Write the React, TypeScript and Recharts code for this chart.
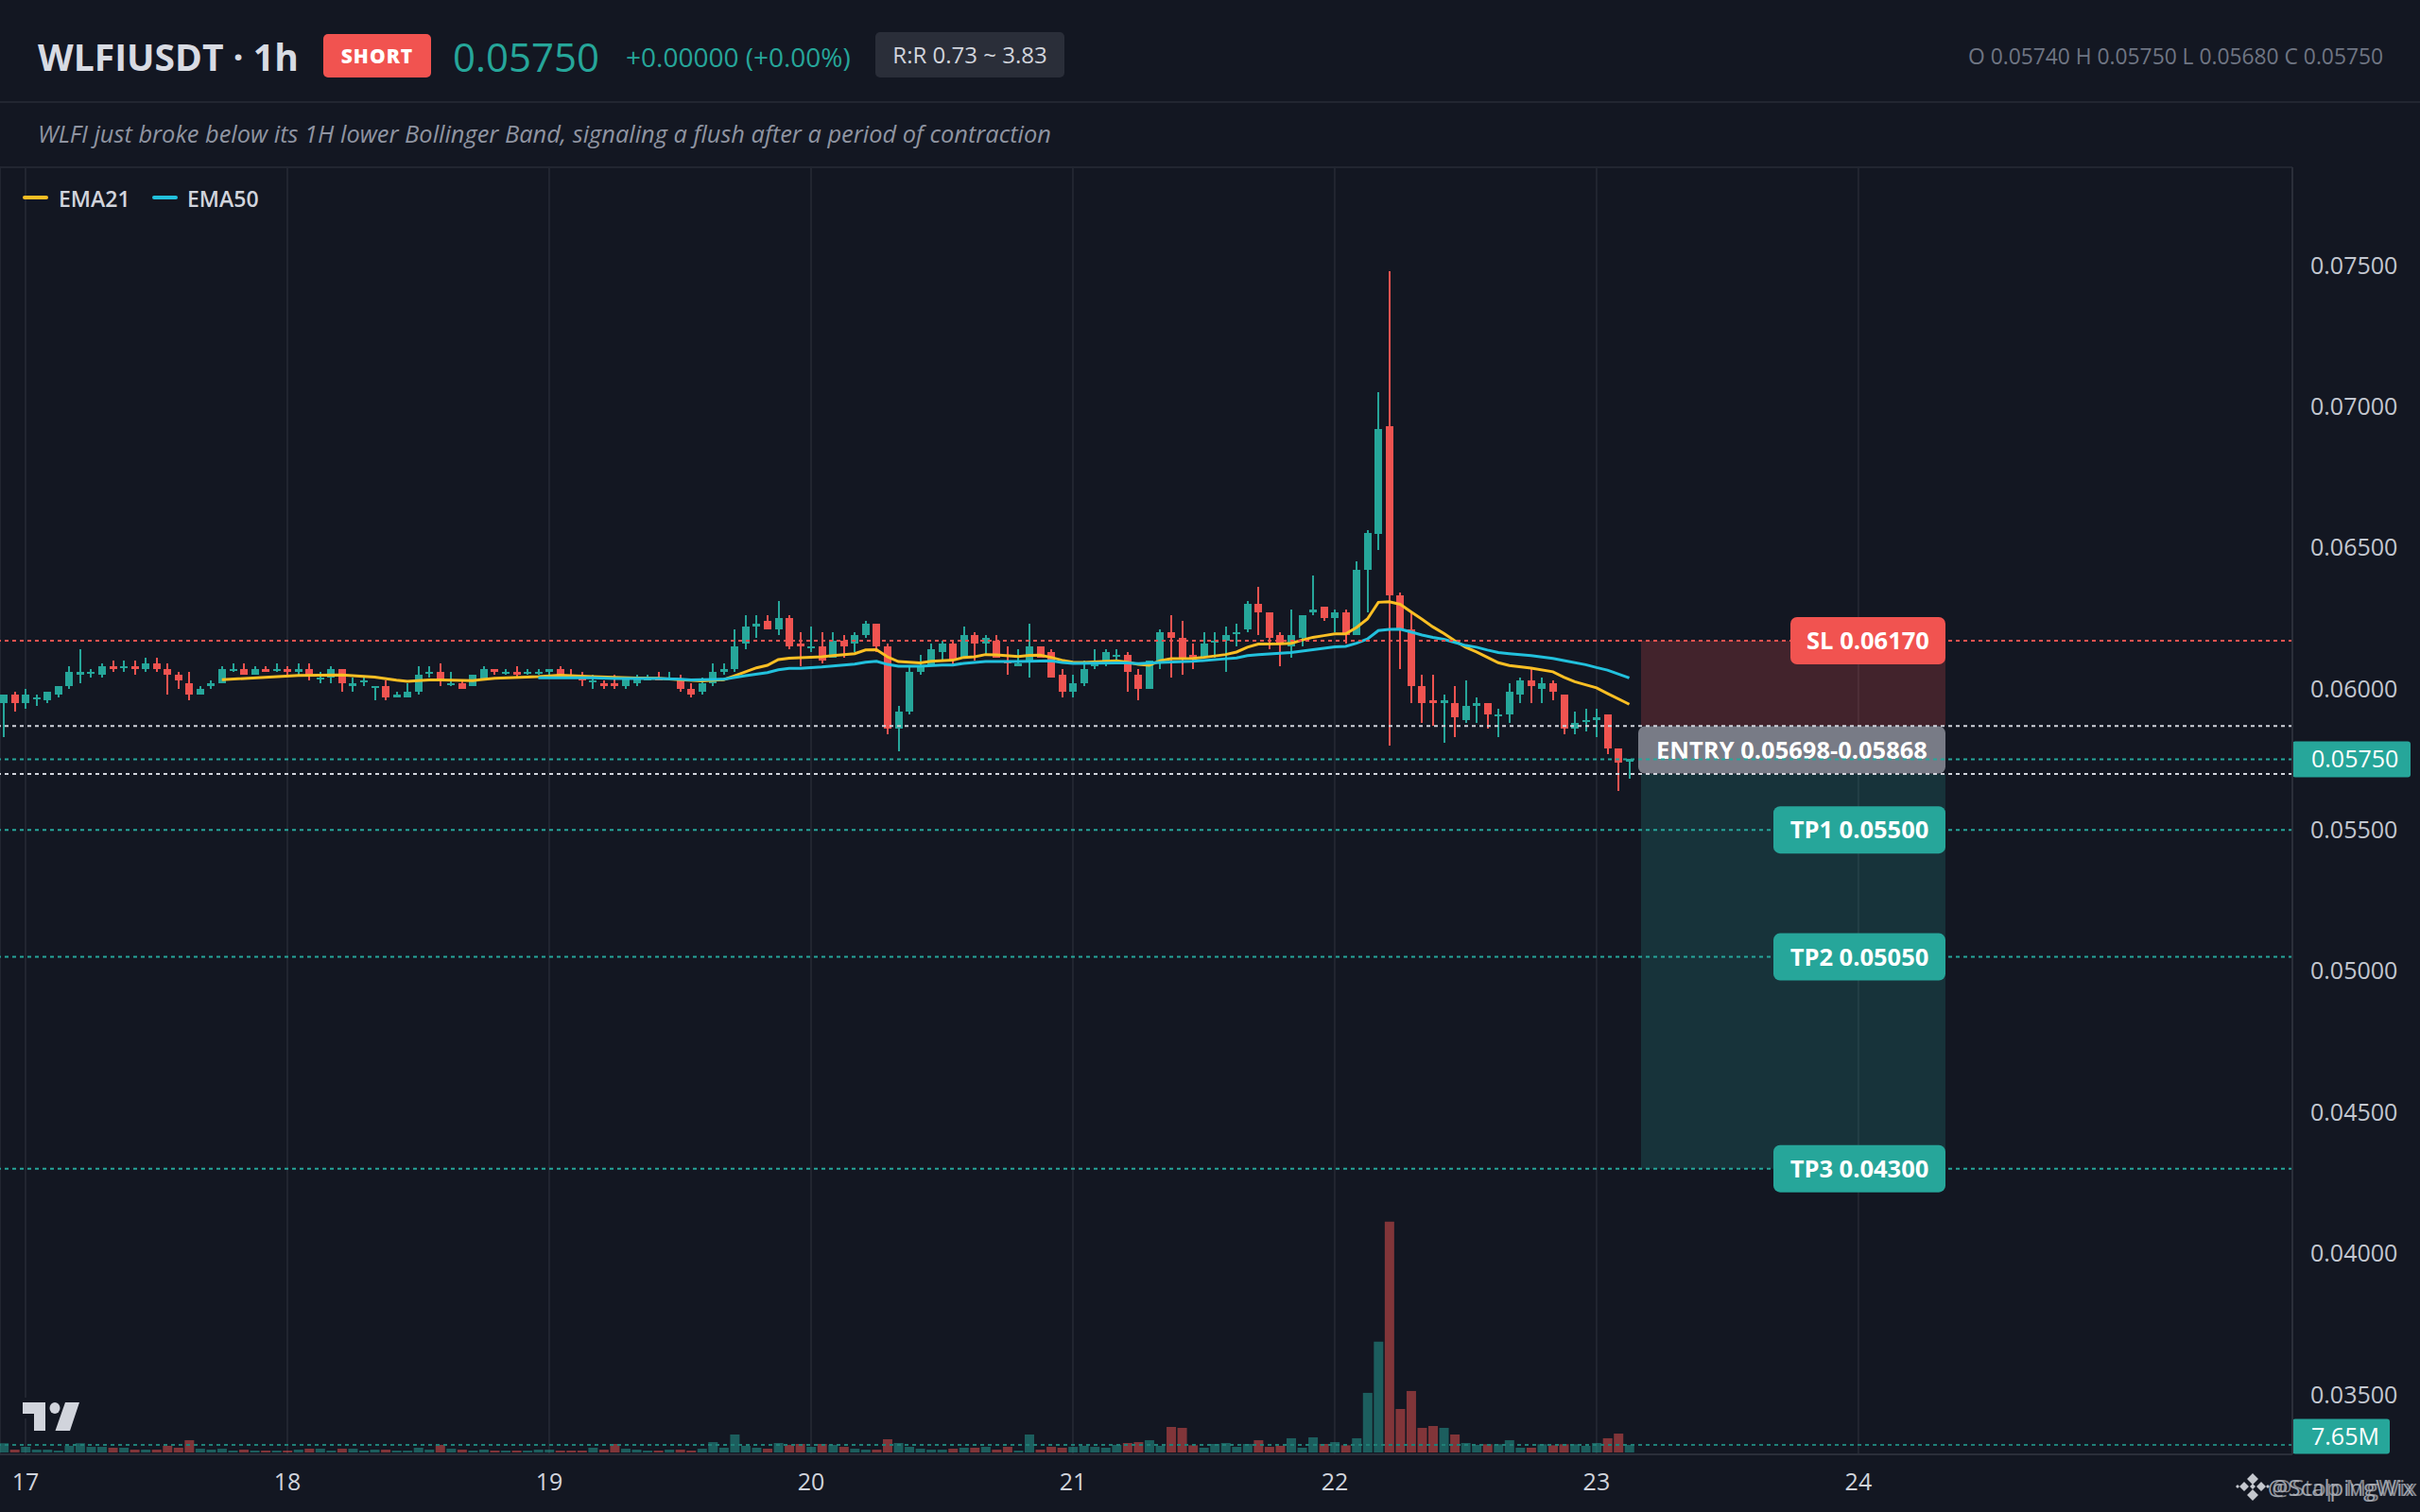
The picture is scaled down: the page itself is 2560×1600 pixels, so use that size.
import { Bar, CartesianGrid, Cell, ComposedChart, Line, ReferenceArea, ReferenceLine, XAxis, YAxis } from 'recharts'

const BG = '#131722'
const GRID = '#222631'
const BORDER = '#2a2e39'
const GREEN = '#26a69a'
const RED = '#ef5350'
const EMA21_COLOR = '#fbbf24'
const EMA50_COLOR = '#22c1dd'
const FONT = '"Open Sans", "Noto Sans", sans-serif'

// hours counted from 00:00 on the 17th
const firstHour = -2
const hourDomain = [-2.339, 207.78]

const opens = [
  0.0595, 0.0598, 0.0595, 0.0597, 0.0596, 0.0598, 0.0601, 0.0605, 0.0606, 0.0605,
  0.0608, 0.0608, 0.0608, 0.0607, 0.0609, 0.0607, 0.0605, 0.0602, 0.0598, 0.0601,
  0.0602, 0.0607, 0.0607, 0.0605, 0.0607, 0.0607, 0.0607, 0.0606, 0.0607, 0.0604,
  0.0604, 0.0607, 0.0601, 0.0603, 0.0601, 0.0601, 0.0597, 0.0597, 0.0599, 0.0606,
  0.0606, 0.0602, 0.0602, 0.0601, 0.0603, 0.0607, 0.0606, 0.0606, 0.0606, 0.0606,
  0.0606, 0.0607, 0.0605, 0.0604, 0.0603, 0.0602, 0.0602, 0.0601, 0.0602, 0.0603,
  0.0604, 0.0604, 0.0603, 0.06, 0.0599, 0.0602, 0.0606, 0.0607, 0.0616, 0.0622,
  0.0624, 0.0621, 0.0625, 0.0616, 0.0615, 0.0615, 0.0611, 0.0617, 0.0616, 0.0619,
  0.0623, 0.0615, 0.0586, 0.0592, 0.0606, 0.0608, 0.0613, 0.0616, 0.0611, 0.0619,
  0.0616, 0.0617, 0.06095, 0.0608, 0.061, 0.0615, 0.0613, 0.0605, 0.0599, 0.0602,
  0.0608, 0.0609, 0.0612, 0.0612, 0.0605, 0.06, 0.061, 0.062, 0.0618, 0.0612,
  0.0611, 0.0617, 0.0617, 0.062, 0.0621, 0.063, 0.0627, 0.0619, 0.0615, 0.0618,
  0.0627, 0.0629, 0.0625, 0.0627, 0.0619, 0.0642, 0.0655, 0.0693, 0.0633, 0.0621,
  0.0601, 0.0596, 0.0595, 0.0595, 0.0589, 0.0594, 0.0595, 0.0591, 0.0591, 0.0598,
  0.0603, 0.06, 0.0602, 0.0598, 0.0586, 0.0589, 0.0589, 0.0591, 0.0579, 0.0574,
]
const closes = [
  0.0598, 0.0595, 0.0598, 0.0597, 0.0599, 0.0601, 0.0606, 0.0606, 0.0606, 0.0608,
  0.0607, 0.0608, 0.0607, 0.0609, 0.0607, 0.0605, 0.0603, 0.0598, 0.06, 0.0602,
  0.0607, 0.0607, 0.0605, 0.0607, 0.0606, 0.0607, 0.0606, 0.0607, 0.0605, 0.0604,
  0.0607, 0.0602, 0.0602, 0.0603, 0.0601, 0.0597, 0.0598, 0.0599, 0.0605, 0.0606,
  0.0603, 0.0602, 0.06, 0.0605, 0.0607, 0.0606, 0.0606, 0.0605, 0.0606, 0.0606,
  0.0607, 0.0605, 0.0604, 0.0603, 0.0603, 0.0601, 0.0601, 0.0604, 0.0604, 0.0604,
  0.0603, 0.0604, 0.06, 0.0598, 0.0602, 0.0606, 0.0607, 0.0615, 0.0622, 0.0623,
  0.0621, 0.0625, 0.0615, 0.0615, 0.0615, 0.061, 0.0617, 0.0615, 0.0619, 0.0623,
  0.0615, 0.0586, 0.0592, 0.0606, 0.0608, 0.0614, 0.0616, 0.061, 0.0619, 0.0616,
  0.0618, 0.0611, 0.0609, 0.0609, 0.0615, 0.0611, 0.0604, 0.0599, 0.0602, 0.0607,
  0.0609, 0.0613, 0.0612, 0.0606, 0.06, 0.061, 0.062, 0.0618, 0.0611, 0.0611,
  0.0616, 0.0617, 0.0619, 0.062, 0.063, 0.0627, 0.0618, 0.0616, 0.0619, 0.0626,
  0.0628, 0.0625, 0.0627, 0.0619, 0.0642, 0.0655, 0.0692, 0.0633, 0.0621, 0.0601,
  0.0595, 0.0595, 0.0596, 0.059, 0.0594, 0.0595, 0.0591, 0.0591, 0.0599, 0.0603,
  0.0601, 0.0602, 0.0599, 0.0586, 0.0588, 0.0589, 0.059, 0.0579, 0.0574, 0.0575,
]
const highs = [
  0.0598, 0.0599, 0.06, 0.0598, 0.0599, 0.0601, 0.0608, 0.0614, 0.0607, 0.0609,
  0.061, 0.061, 0.061, 0.0611, 0.0611, 0.0609, 0.0606, 0.0606, 0.0601, 0.0603,
  0.0608, 0.0609, 0.0609, 0.0608, 0.0608, 0.0609, 0.0608, 0.0609, 0.0609, 0.0606,
  0.0608, 0.0607, 0.0604, 0.0604, 0.0601, 0.0603, 0.0599, 0.0602, 0.0608, 0.0608,
  0.0609, 0.0606, 0.0603, 0.0605, 0.0608, 0.0607, 0.0607, 0.0608, 0.0607, 0.0607,
  0.0607, 0.0608, 0.0607, 0.0606, 0.0605, 0.0603, 0.0605, 0.0604, 0.0605, 0.0605,
  0.0606, 0.0606, 0.0605, 0.0602, 0.0604, 0.0609, 0.0609, 0.0621, 0.0626, 0.0626,
  0.0626, 0.0631, 0.0626, 0.062, 0.0622, 0.062, 0.062, 0.0619, 0.062, 0.0624,
  0.0623, 0.0616, 0.0594, 0.0608, 0.0612, 0.0616, 0.0617, 0.0617, 0.0622, 0.062,
  0.0619, 0.0619, 0.0615, 0.0614, 0.0623, 0.0615, 0.0614, 0.0607, 0.0605, 0.061,
  0.0614, 0.0614, 0.0614, 0.0613, 0.0607, 0.061, 0.0621, 0.0626, 0.0624, 0.0616,
  0.062, 0.062, 0.0622, 0.0623, 0.0631, 0.0636, 0.0627, 0.062, 0.0628, 0.0626,
  0.064, 0.0629, 0.0628, 0.0628, 0.0645, 0.0656, 0.0705, 0.0748, 0.0634, 0.0627,
  0.0605, 0.0605, 0.0598, 0.0601, 0.0603, 0.0597, 0.0595, 0.0593, 0.0602, 0.0604,
  0.0607, 0.0604, 0.0603, 0.0598, 0.0592, 0.0593, 0.0593, 0.0591, 0.0579, 0.0575,
]
const lows = [
  0.0583, 0.0592, 0.0593, 0.0594, 0.0595, 0.0597, 0.06, 0.0602, 0.0604, 0.0604,
  0.0606, 0.0606, 0.0605, 0.0606, 0.0606, 0.0598, 0.06, 0.0596, 0.0598, 0.06,
  0.0602, 0.0606, 0.0605, 0.0605, 0.0606, 0.0606, 0.0605, 0.0605, 0.0603, 0.0602,
  0.0602, 0.0599, 0.0599, 0.0601, 0.0596, 0.0596, 0.0597, 0.0597, 0.0598, 0.0604,
  0.0601, 0.0601, 0.06, 0.0601, 0.0603, 0.0605, 0.0605, 0.0604, 0.0605, 0.0605,
  0.0605, 0.0605, 0.0604, 0.0601, 0.06, 0.06, 0.06, 0.06, 0.0601, 0.0603,
  0.0603, 0.0603, 0.0599, 0.0597, 0.0598, 0.0601, 0.0605, 0.0606, 0.0614, 0.0618,
  0.0621, 0.0619, 0.0614, 0.0608, 0.0613, 0.0609, 0.0611, 0.0611, 0.0613, 0.0618,
  0.0613, 0.0584, 0.0578, 0.0591, 0.0605, 0.0608, 0.061, 0.0608, 0.0611, 0.061,
  0.0612, 0.0611, 0.0605, 0.0608, 0.0604, 0.0611, 0.0604, 0.0597, 0.0597, 0.0601,
  0.0607, 0.0608, 0.061, 0.0599, 0.0596, 0.06, 0.0607, 0.0604, 0.0605, 0.0607,
  0.0611, 0.0611, 0.0606, 0.0615, 0.062, 0.0619, 0.0614, 0.0608, 0.0611, 0.0615,
  0.0626, 0.0624, 0.062, 0.0616, 0.0619, 0.0627, 0.0649, 0.058, 0.0607, 0.0595,
  0.0588, 0.0587, 0.0581, 0.0583, 0.0588, 0.0588, 0.0586, 0.0583, 0.0588, 0.0595,
  0.0595, 0.0595, 0.0596, 0.0584, 0.0584, 0.0585, 0.0583, 0.0577, 0.0564, 0.0568,
]
// millions
const volumes = [
  9.3, 2.9, 5.7, 2.9, 2.9, 1.9, 6.7, 9.3, 5.7, 5.7,
  4.8, 4.8, 2.9, 2.9, 2.9, 6.7, 4.8, 12.4, 3.8, 2.9,
  3.8, 1.9, 2.9, 1.9, 1.9, 1.9, 1.9, 2.9, 3.8, 3.8,
  1.9, 3.8, 3.8, 1.9, 2.9, 2.9, 1.9, 1.9, 4.8, 2.9,
  7.7, 3.8, 2.9, 1.9, 2.9, 1.9, 1.9, 1.9, 1.9, 2.9,
  2.9, 1.9, 1.9, 1.9, 4.8, 2.9, 8.6, 3.8, 2.9, 1.9,
  1.9, 2.9, 2.9, 1.9, 3.8, 10.5, 4.8, 18.2, 6.7, 4.8,
  3.8, 9.6, 7.7, 8.6, 5.7, 8.6, 7.7, 5.7, 3.8, 2.9,
  2.9, 13.4, 9.6, 5.7, 3.8, 2.9, 2.9, 3.8, 4.8, 4.8,
  5.7, 2.9, 5.7, 1.9, 18.2, 2.9, 5.7, 4.8, 5.7, 6.7,
  5.7, 4.8, 7.7, 9.6, 10.5, 12.4, 6.7, 25.8, 24.9, 7.3,
  4.8, 8.6, 9.6, 5.7, 8.6, 12.4, 5.7, 6.7, 14.4, 4.8,
  15.3, 8.6, 10.5, 7.3, 14.4, 60.3, 112, 233.5, 44, 62.2,
  24.9, 26.8, 24.9, 18.2, 9.6, 7.7, 8.3, 8.3, 12.4, 4.8,
  4.8, 8.3, 7.3, 8.3, 8.3, 6.7, 9.6, 14.4, 19.1, 7.65,
]

const ema21Hours = [
  18, 25, 29, 32, 34, 35, 37, 38, 41, 43, 47, 49, 52, 56, 58, 60, 62, 64, 65, 67, 68, 69, 70, 71, 73, 74, 76, 77, 78, 79,
  80, 82, 83, 85, 86, 87, 88, 89, 91, 92, 93, 94, 95, 96, 97, 100, 101, 102, 103, 104, 105, 107, 108, 110, 111, 112, 113,
  115, 116, 117, 118, 119, 120, 121, 122, 123, 124, 125, 126, 127, 128, 129, 130, 131, 132, 133, 134, 135, 136, 138, 140,
  141, 142, 143, 144, 145, 147,
]
const ema21Values = [
  0.06032, 0.06047, 0.06049, 0.06041, 0.0603, 0.06026, 0.06031, 0.06031, 0.06029, 0.06037, 0.06043, 0.06048, 0.06043,
  0.06038, 0.06037, 0.06032, 0.06028, 0.06032, 0.06046, 0.06074, 0.06083, 0.06103, 0.06108, 0.0611, 0.06113, 0.06117,
  0.06124, 0.06137, 0.06138, 0.06113, 0.06096, 0.06091, 0.06097, 0.06101, 0.06111, 0.06113, 0.06121, 0.0612, 0.06114,
  0.06118, 0.06119, 0.06111, 0.06101, 0.06094, 0.06093, 0.06099, 0.06094, 0.06086, 0.06083, 0.06099, 0.06106, 0.06107,
  0.06111, 0.06121, 0.0613, 0.06147, 0.06158, 0.06159, 0.06161, 0.06172, 0.06182, 0.06188, 0.06194, 0.06194, 0.06217,
  0.06247, 0.06306, 0.06308, 0.06299, 0.06272, 0.06246, 0.06219, 0.06196, 0.0617, 0.06147, 0.0613, 0.06111, 0.06092,
  0.06082, 0.06073, 0.0606, 0.06041, 0.06025, 0.06014, 0.06003, 0.05983, 0.05945,
]
const ema50Hours = [
  47, 52, 54, 58, 60, 61, 63, 64, 66, 68, 69, 70, 71, 73, 75, 76, 77, 78, 79, 80, 82, 84, 85, 86, 88, 91, 94, 95, 96, 100,
  101, 102, 104, 107, 110, 111, 112, 113, 116, 118, 120, 121, 122, 123, 124, 125, 126, 127, 128, 129, 130, 131, 132, 133,
  134, 135, 136, 138, 140, 141, 143, 144, 145, 147,
]
const ema50Values = [
  0.06039, 0.06039, 0.06036, 0.06036, 0.06034, 0.06031, 0.06033, 0.06034, 0.06046, 0.06057, 0.06067, 0.06072, 0.06072,
  0.06077, 0.06084, 0.06087, 0.06094, 0.06097, 0.06086, 0.0608, 0.0608, 0.06084, 0.06084, 0.0609, 0.06096, 0.06096,
  0.06099, 0.06093, 0.0609, 0.06091, 0.06091, 0.06089, 0.06093, 0.06097, 0.06106, 0.06109, 0.06117, 0.06121, 0.06128,
  0.06138, 0.06148, 0.0615, 0.06161, 0.06176, 0.06206, 0.0621, 0.06211, 0.06201, 0.0619, 0.06182, 0.06175, 0.06164,
  0.06153, 0.06147, 0.06137, 0.06128, 0.06124, 0.06117, 0.06107, 0.061, 0.06085, 0.06075, 0.06066, 0.06038,
]

const dayHours = [0, 24, 48, 72, 96, 120, 144, 168]
const dayLabels = ['17', '18', '19', '20', '21', '22', '23', '24']
const priceTicks = [0.035, 0.04, 0.045, 0.05, 0.055, 0.06, 0.065, 0.07, 0.075]

const tradeStart = 148.08
const tradeEnd = 175.98
const stopLoss = 0.0617
const entryLow = 0.05698
const entryHigh = 0.05868
const targets = [
  { name: 'TP1', price: 0.055 },
  { name: 'TP2', price: 0.0505 },
  { name: 'TP3', price: 0.043 },
]
const lastPrice = 0.0575
const lastVolume = 7.65

const rows = opens.map((open, i) => {
  const hour = firstHour + i
  const at21 = ema21Hours.indexOf(hour)
  const at50 = ema50Hours.indexOf(hour)
  return {
    hour,
    open,
    close: closes[i],
    high: highs[i],
    low: lows[i],
    range: [lows[i], highs[i]],
    volume: volumes[i],
    ema21: at21 >= 0 ? ema21Values[at21] : null,
    ema50: at50 >= 0 ? ema50Values[at50] : null,
  }
})

function Candle(props: any) {
  const { x, y, width, height, payload } = props
  const { open, close, high, low } = payload
  const perUnit = height / (high - low || 1)
  const color = close >= open ? GREEN : RED
  const cx = Math.round(x + width / 2)
  const top = Math.round(y + (high - Math.max(open, close)) * perUnit)
  const bodyHeight = Math.max(Math.round(Math.abs(open - close) * perUnit), 2)
  return (
    <g>
      <rect x={cx - 1} y={Math.round(y)} width={2} height={Math.max(Math.round(height), 1)} fill={color} />
      <rect x={cx - 4} y={top} width={8} height={bodyHeight} fill={color} />
    </g>
  )
}

const BADGE_RIGHT = 2058

function Badge({ viewBox, text, fill, width }: any) {
  const cy = viewBox.y + (viewBox.height || 0) / 2
  return (
    <g>
      <rect x={BADGE_RIGHT - width} y={cy - 25} width={width} height={50} rx={7} fill={fill} />
      <text
        x={BADGE_RIGHT - width / 2}
        y={cy + 9}
        fill="#fff"
        textAnchor="middle"
        style={{ fontFamily: FONT, fontSize: 25.5, fontWeight: 700 }}
      >
        {text}
      </text>
    </g>
  )
}

function AxisTag({ viewBox, text, width, height, offset }: any) {
  const cy = viewBox.y + offset
  return (
    <g>
      <rect x={2425} y={cy - height / 2} width={width} height={height} rx={3} fill={GREEN} />
      <text x={2445} y={cy + 9} fill="#fff" style={{ fontFamily: FONT, fontSize: 25, fontWeight: 400 }}>
        {text}
      </text>
    </g>
  )
}

const abs = (left: number, top: number, style: any = {}) => ({
  position: 'absolute' as const,
  left,
  top,
  whiteSpace: 'nowrap' as const,
  fontFamily: FONT,
  ...style,
})

function Header() {
  return (
    <>
      <div style={abs(0, 107, { width: 2560, height: 2, background: GRID })} />
      <div style={abs(40, 35, { fontSize: 39, lineHeight: '50px', fontWeight: 700, color: '#d8dbe3' })}>WLFIUSDT · 1h</div>
      <div
        style={abs(342, 36, {
          width: 114,
          height: 46,
          borderRadius: 5,
          background: '#f15350',
          color: '#fff',
          fontSize: 21,
          fontWeight: 800,
          letterSpacing: 1,
          lineHeight: '46px',
          textAlign: 'center',
        })}
      >
        SHORT
      </div>
      <div style={abs(479, 30, { fontSize: 42, lineHeight: '60px', fontWeight: 500, color: GREEN })}>0.05750</div>
      <div style={abs(662, 42, { fontSize: 28, lineHeight: '36px', fontWeight: 500, color: GREEN })}>+0.00000 (+0.00%)</div>
      <div
        style={abs(926, 34, {
          width: 200,
          height: 48,
          borderRadius: 5,
          background: BORDER,
          color: '#d1d4dc',
          fontSize: 24,
          fontWeight: 500,
          lineHeight: '48px',
          textAlign: 'center',
        })}
      >
        R:R 0.73 ~ 3.83
      </div>
      <div style={abs(2082, 44, { fontSize: 22.8, lineHeight: '32px', color: '#6f7583' })}>
        O 0.05740 H 0.05750 L 0.05680 C 0.05750
      </div>
      <div style={abs(40, 123, { fontSize: 25.4, lineHeight: '36px', fontStyle: 'italic', color: '#8f94a1' })}>
        WLFI just broke below its 1H lower Bollinger Band, signaling a flush after a period of contraction
      </div>
    </>
  )
}

function Legend() {
  const items = [
    { label: 'EMA21', color: EMA21_COLOR, swatch: 24, text: 62 },
    { label: 'EMA50', color: EMA50_COLOR, swatch: 161, text: 198 },
  ]
  return (
    <>
      {items.map((it) => (
        <div key={it.label}>
          <div style={abs(it.swatch, 207, { width: 27, height: 4, borderRadius: 2, background: it.color })} />
          <div style={abs(it.text, 195, { fontSize: 23, lineHeight: '30px', fontWeight: 600, color: '#d1d4dc' })}>{it.label}</div>
        </div>
      ))}
    </>
  )
}

function Marks() {
  return (
    <>
      <svg width={100} height={50} style={abs(10, 1475)}>
        <rect x={15} y={4} width={6} height={22} fill={BG} />
        <path d="M14 9 H38 V39 H26 V21 H14 Z" fill="#d1d4dc" />
        <ellipse cx={48} cy={15} rx={5.5} ry={6} fill="#d1d4dc" />
        <path d="M59 9 H74 L64 39 H48.5 Z" fill="#d1d4dc" />
      </svg>
      <svg width={36} height={30} viewBox="0 0 36 30" style={abs(2365, 1559)}>
        <path d="M18 0 L24 6 L18 12 L12 6 Z M9 9 L14 14 L9 19 L4 14 Z M27 9 L32 14 L27 19 L22 14 Z M18 17 L24 23 L18 29 L12 23 Z M0 14 L2 12 L4 14 L2 16 Z M32 14 L34 12 L36 14 L34 16 Z" fill="#c4c7ce" />
        <path d="M18 11 L21 14 L18 17 L15 14 Z" fill="#c4c7ce" />
      </svg>
      <div style={abs(2399, 1556, { fontSize: 24, lineHeight: '36px', color: '#b4b7bf', opacity: 0.85 })}>@ScalpingWix</div>
      <div style={abs(2403, 1556, { fontSize: 24, lineHeight: '36px', color: '#b4b7bf', opacity: 0.7 })}>@Stop MgWix</div>
    </>
  )
}

export default function App() {
  return (
    <div style={{ position: 'absolute', left: 0, top: 0, width: 2560, height: 1600, background: BG, overflow: 'hidden' }}>
      <ComposedChart width={2560} height={1600} data={rows} margin={{ top: 177, right: 0, bottom: 0, left: 0 }}>
        <CartesianGrid stroke={GRID} strokeWidth={2} />
        <XAxis
          dataKey="hour"
          type="number"
          domain={hourDomain}
          allowDataOverflow
          ticks={dayHours}
          tickFormatter={(h: number) => dayLabels[dayHours.indexOf(h)]}
          height={61}
          axisLine={{ stroke: BORDER, strokeWidth: 2 }}
          tickLine={false}
          tickMargin={14}
          tick={{ fill: '#d1d4dc', fontSize: 25, fontFamily: FONT }}
          interval={0}
        />
        <XAxis xAxisId="vol" dataKey="hour" type="number" domain={hourDomain} allowDataOverflow hide />
        <YAxis
          yAxisId="price"
          orientation="right"
          domain={[0.03288, 0.07847]}
          allowDataOverflow
          ticks={priceTicks}
          tickFormatter={(v: number) => v.toFixed(5)}
          width={135}
          axisLine={{ stroke: BORDER, strokeWidth: 2 }}
          tickLine={false}
          tickMargin={13}
          tick={{ fill: '#c3c7d0', fontSize: 25, fontFamily: FONT, textAnchor: 'start' }}
          interval={0}
        />
        <YAxis yAxisId="vol" orientation="right" domain={[-1.9, 1300]} allowDataOverflow hide width={0} />

        <ReferenceArea yAxisId="price" x1={tradeStart} x2={tradeEnd} y1={entryHigh} y2={stopLoss} fill={RED} fillOpacity={0.22} stroke="none" />
        <ReferenceArea yAxisId="price" x1={tradeStart} x2={tradeEnd} y1={targets[2].price} y2={entryLow} fill={GREEN} fillOpacity={0.2} stroke="none" />

        <ReferenceLine yAxisId="price" y={entryHigh} stroke="#d1d4dc" strokeWidth={2} strokeDasharray="4 4" />
        <ReferenceLine yAxisId="price" y={entryLow} stroke="#d1d4dc" strokeWidth={2} strokeDasharray="4 4" />
        <ReferenceLine yAxisId="vol" y={lastVolume} stroke="#1f7f77" strokeWidth={2} strokeDasharray="4 4" />

        <Bar xAxisId="vol" yAxisId="vol" dataKey="volume" barSize={10} isAnimationActive={false}>
          {rows.map((r) => (
            <Cell key={r.hour} fill={r.close >= r.open ? GREEN : RED} fillOpacity={0.5} />
          ))}
        </Bar>
        <Bar yAxisId="price" dataKey="range" barSize={8} shape={Candle} isAnimationActive={false} />
        <Line yAxisId="price" dataKey="ema21" stroke={EMA21_COLOR} strokeWidth={3} dot={false} connectNulls isAnimationActive={false} />
        <Line yAxisId="price" dataKey="ema50" stroke={EMA50_COLOR} strokeWidth={3} dot={false} connectNulls isAnimationActive={false} />

        <ReferenceLine
          yAxisId="price"
          y={lastPrice}
          stroke={GREEN}
          strokeWidth={2}
          strokeDasharray="4 4"
          label={(p: any) => <AxisTag viewBox={p.viewBox} text="0.05750" width={125} height={38} offset={0} />}
        />
        <ReferenceLine
          yAxisId="vol"
          y={lastVolume}
          stroke="none"
          label={(p: any) => <AxisTag viewBox={p.viewBox} text="7.65M" width={103} height={37} offset={-9} />}
        />
        <ReferenceLine
          yAxisId="price"
          y={stopLoss}
          stroke={RED}
          strokeWidth={2}
          strokeDasharray="4 4"
          label={(p: any) => <Badge viewBox={p.viewBox} text="SL 0.06170" fill="#f15350" width={164} />}
        />
        {targets.map((t) => (
          <ReferenceLine
            key={t.name}
            yAxisId="price"
            y={t.price}
            stroke={GREEN}
            strokeWidth={2}
            strokeDasharray="4 4"
            label={(p: any) => <Badge viewBox={p.viewBox} text={`${t.name} ${t.price.toFixed(5)}`} fill={GREEN} width={182} />}
          />
        ))}
        <ReferenceArea
          yAxisId="price"
          x1={tradeStart}
          x2={tradeEnd}
          y1={entryLow}
          y2={entryHigh}
          fill="none"
          stroke="none"
          label={(p: any) => <Badge viewBox={p.viewBox} text="ENTRY 0.05698-0.05868" fill="#787b86" width={325} />}
        />
      </ComposedChart>
      <Header />
      <Legend />
      <Marks />
    </div>
  )
}
